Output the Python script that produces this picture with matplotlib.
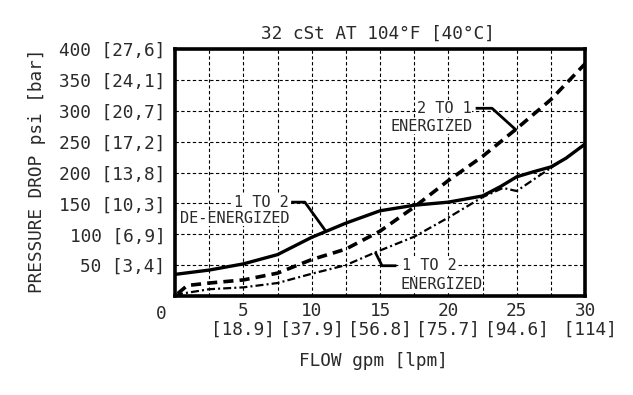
import matplotlib
matplotlib.use("Agg")
import matplotlib.pyplot as plt

plt.rcParams['font.family'] = ['DejaVu Sans Mono']

# 1 TO 2 DE-ENERGIZED (solid)
deen_flow = [0, 2.5, 5, 7.5, 10, 12.5, 15, 17.5, 20, 22.5, 23.8, 25, 26.2, 27.5, 28.6, 30]
deen_psi = [35, 42, 52, 67, 95, 118, 138, 147, 152, 162, 177, 193, 201, 209, 223, 246]

# 2 TO 1 ENERGIZED (dashed)
en21_flow = [0.2, 0.9, 2.5, 5, 7.5, 10, 12.5, 15, 17.5, 20, 22.5, 25, 27.5, 30]
en21_psi = [4, 17, 21, 26, 37, 59, 76, 105, 144, 187, 226, 271, 318, 376]

# 1 TO 2 ENERGIZED (dash-dot)
en12_flow = [0, 2.5, 5, 7.5, 10, 12.5, 14.7, 17.5, 20, 22.5, 24.0, 25, 27.6, 28.6, 30]
en12_psi = [2, 11, 14, 21, 36, 50, 71, 96, 127, 160, 175, 170, 209, 223, 246]

x_ticks = [5, 10, 15, 20, 25, 30]
x_lpm = ["[18.9]", "[37.9]", "[56.8]", "[75.7]", "[94.6]", " [114]"]
y_ticks = [50, 100, 150, 200, 250, 300, 350, 400]
y_bar = ["[3,4]", "[6,9]", "[10,3]", "[13,8]", "[17,2]", "[20,7]", "[24,1]", "[27,6]"]

# leader lines (flow, psi)
lead_deen = ([8.5, 9.5, 11.0], [152, 152, 106])
lead_en21 = ([22.0, 23.2, 25.0], [304, 304, 268])
lead_en12 = ([16.2, 15.15, 14.65], [49, 49, 71])

txt = '#2a2a2a'
box = dict(facecolor='white', edgecolor='none', pad=0.5)

fig = plt.figure(figsize=(6.33, 3.95), dpi=100)
ax = fig.add_axes([175/633, 99/395, 410/633, 247/395])

ax.plot(deen_flow, deen_psi, color='black', lw=2.4, solid_capstyle='butt', zorder=3)
ax.plot(en21_flow, en21_psi, color='black', lw=2.6, linestyle=(0, (2.8, 1.7)), zorder=3)
ax.plot(en12_flow, en12_psi, color='black', lw=1.6, linestyle=(0, (3.6, 1.4, 0.9, 1.4)), zorder=3)

for lx, ly in [lead_deen, lead_en21, lead_en12]:
    ax.plot(lx, ly, color='black', lw=2.0, solid_capstyle='butt', zorder=3)

ax.set_xlim(0, 30)
ax.set_ylim(0, 400)

ax.set_xticks([i * 2.5 for i in range(1, 12)], minor=True)
ax.set_xticks(x_ticks)
ax.set_xticklabels([f"{t}\n{l}" for t, l in zip(x_ticks, x_lpm)], linespacing=1.05)
ax.set_yticks(y_ticks)
ax.set_yticklabels([f"{t} {b}" for t, b in zip(y_ticks, y_bar)])
ax.tick_params(which='both', length=0, labelsize=12.8, labelcolor=txt)
ax.tick_params(axis='x', pad=4)
ax.tick_params(axis='y', pad=7)

ax.grid(True, which='both', color='black', lw=0.8, linestyle=(0, (3, 2.2)))
ax.set_axisbelow(True)
for s in ax.spines.values():
    s.set_linewidth(2.6)

ax.annotate("0", xy=(0, 0), xytext=(-14, -18), textcoords='offset pixels',
            ha='center', va='center', fontsize=12.8, color=txt, annotation_clip=False)

labels = [
    (8.3, 152, "1 TO 2", 'right'),
    (0.35, 126, "DE-ENERGIZED", 'left'),
    (21.7, 304, "2 TO 1", 'right'),
    (21.8, 275, "ENERGIZED", 'right'),
    (16.6, 49, "1 TO 2", 'left'),
    (16.5, 18, "ENERGIZED", 'left'),
]
for lx, ly, s, ha in labels:
    ax.text(lx, ly, s, ha=ha, va='center', fontsize=11, color=txt, bbox=box, zorder=2)

fig.text(378/633, 1 - 34/395, "32 cSt AT 104°F [40°C]", ha='center', va='center',
         fontsize=12.8, color=txt)
fig.text(373/633, 1 - 361/395, "FLOW gpm [lpm]", ha='center', va='center',
         fontsize=12.8, color=txt)
fig.text(37/633, 1 - 171/395, "PRESSURE DROP psi [bar]", ha='center', va='center',
         rotation=90, fontsize=12.8, color=txt)

fig.savefig("out.png", dpi=100, facecolor='white')
